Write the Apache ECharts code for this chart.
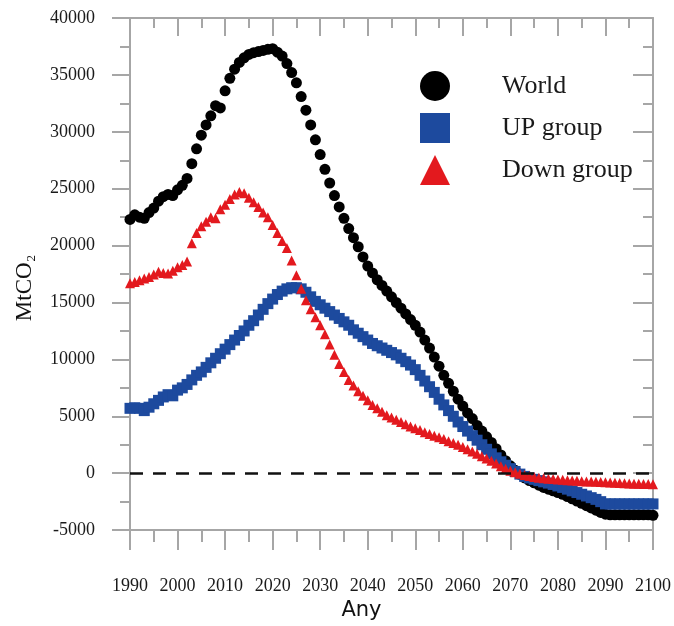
<!DOCTYPE html>
<html>
<head>
<meta charset="utf-8">
<script src="https://cdn.jsdelivr.net/npm/echarts@6/dist/echarts.min.js"></script>
<style>
html,body{margin:0;padding:0;background:#fff;}
#chart{width:674px;height:626px;}
</style>
</head>
<body>
<div id="chart"></div>
<script>
const startYear = 1990;
const endYear = 2100;
const seriesNames = ['World', 'UP group', 'Down group'];

const world = [
  22300, 22700, 22500, 22400, 22900, 23300, 23900, 24300, 24500, 24400,
  24900, 25300, 25900, 27200, 28500, 29700, 30600, 31400, 32300, 32100,
  33600, 34700, 35500, 36100, 36500, 36800, 36950, 37050, 37150, 37250,
  37300, 37000, 36650, 36000, 35200, 34300, 33100, 31900, 30600, 29300,
  28000, 26700, 25500, 24400, 23400, 22400, 21500, 20700, 19900, 19000,
  18200, 17600, 17000, 16500, 16000, 15500, 15000, 14500, 14000, 13500,
  13000, 12400, 11700, 11000, 10200, 9400, 8600, 7900, 7200, 6500,
  5900, 5300, 4800, 4200, 3700, 3200, 2700, 2150, 1600, 1100,
  650, 250, -100, -400, -650, -850, -1050, -1250, -1400, -1550,
  -1700, -1850, -2050, -2250, -2450, -2650, -2850, -3050, -3250, -3450,
  -3600, -3650, -3650, -3650, -3650, -3650, -3650, -3650, -3650, -3650,
  -3700
];

const upGroup = [
  5700, 5750, 5700, 5500, 5800, 6100, 6400, 6700, 6900, 6800,
  7300, 7500, 7800, 8200, 8600, 8900, 9300, 9700, 10100, 10500,
  10900, 11300, 11700, 12100, 12500, 13000, 13400, 13900, 14400, 14900,
  15300, 15700, 16000, 16200, 16300, 16300, 16200, 15900, 15500, 15100,
  14800, 14500, 14200, 13900, 13600, 13300, 13000, 12600, 12300, 12000,
  11700, 11400, 11200, 11000, 10800, 10600, 10400, 10100, 9800, 9500,
  9100, 8600, 8100, 7600, 7100, 6500, 6000, 5500, 5000, 4500,
  4100, 3700, 3300, 2900, 2500, 2100, 1700, 1350, 1000, 700,
  400, 150, -80, -280, -420, -540, -650, -760, -870, -990,
  -1120, -1250, -1400, -1550, -1700, -1850, -2000, -2150, -2300, -2500,
  -2700, -2700, -2700, -2700, -2700, -2700, -2700, -2700, -2700, -2700,
  -2700
];

const downGroup = [
  16700, 16800, 16950, 17100, 17250, 17450, 17700, 17600, 17550, 17800,
  18100, 18300, 18600, 20200, 21100, 21700, 22100, 22500, 22400, 23200,
  23600, 24100, 24500, 24700, 24600, 24200, 23800, 23400, 22900, 22500,
  21800, 21100, 20400, 19800, 18700, 17400, 16200, 15200, 14400, 13700,
  13000, 12200, 11300, 10400, 9600, 8900, 8200, 7700, 7200, 6800,
  6400, 6000, 5700, 5400, 5100, 4900, 4700, 4500, 4300, 4100,
  3950, 3800, 3600, 3450, 3300, 3150, 3000, 2800, 2650, 2500,
  2300, 2100, 1900, 1700, 1500, 1300, 1100, 850, 600, 400,
  220, 80, -50, -150, -250, -330, -390, -440, -480, -520,
  -550, -580, -610, -640, -670, -700, -720, -740, -760, -780,
  -800, -820, -840, -860, -880, -900, -920, -930, -950, -960,
  -980
];

const xTickLabels = ['1990','2000','2010','2020','2030','2040','2050','2060','2070','2080','2090','2100'];
const yTickLabels = ['-5000','0','5000','10000','15000','20000','25000','30000','35000','40000'];

function pairs(arr) {
  return arr.map((v, i) => [startYear + i, v]);
}

const serif = '"Liberation Serif", "DejaVu Serif", serif';
const axisGray = '#a6a6a6';

const chart = echarts.init(document.getElementById('chart'), null, {renderer: 'canvas'});

const xBase = {
  type: 'value', min: 1990, max: 2100, interval: 10,
  splitLine: {show: false},
  axisLine: {show: true, onZero: false, lineStyle: {color: axisGray, width: 2}},
  minorTick: {show: true, splitNumber: 2, length: 12, lineStyle: {color: axisGray, width: 2}},
  minorSplitLine: {show: false}
};
const yBase = {
  type: 'value', min: -5000, max: 40000, interval: 5000,
  splitLine: {show: false},
  axisLine: {show: true, onZero: false, lineStyle: {color: axisGray, width: 2}},
  minorTick: {show: true, splitNumber: 2, length: 10, lineStyle: {color: axisGray, width: 2}},
  minorSplitLine: {show: false}
};

chart.setOption({
  animation: false,
  backgroundColor: '#ffffff',
  grid: {left: 130, right: 18, top: 18, bottom: 87, containLabel: false},
  legend: {
    orient: 'vertical',
    left: 415, top: 66,
    itemWidth: 30, itemHeight: 30, itemGap: 12,
    data: [
      {name: seriesNames[0], icon: 'circle'},
      {name: seriesNames[1], icon: 'rect'},
      {name: seriesNames[2], icon: 'triangle'}
    ],
    textStyle: {fontFamily: serif, fontSize: 26, color: '#1a1a1a', padding: [0, 0, 0, 47]}
  },
  xAxis: [
    Object.assign({}, xBase, {
      position: 'bottom',
      name: 'Any', nameLocation: 'middle', nameGap: 64,
      nameTextStyle: {fontFamily: '"DejaVu Sans", sans-serif', fontSize: 21, color: '#111', padding: [0, 60, 0, 0]},
      axisTick: {show: true, inside: false, length: 20, lineStyle: {color: axisGray, width: 2}},
      axisLabel: {
        show: true, margin: 47, fontFamily: serif, fontSize: 18, color: '#1a1a1a',
        formatter: function (v) { const s = String(v); return xTickLabels.indexOf(s) >= 0 ? s : ''; }
      }
    }),
    Object.assign({}, xBase, {
      position: 'top',
      axisTick: {show: true, inside: true, length: 18, lineStyle: {color: axisGray, width: 2}},
      minorTick: {show: true, splitNumber: 2, length: 10, lineStyle: {color: axisGray, width: 2}},
      axisLabel: {show: false}
    })
  ],
  yAxis: [
    Object.assign({}, yBase, {
      position: 'left',
      name: '{a|MtCO}{b|2}', nameLocation: 'middle', nameGap: 92,
      nameTextStyle: {
        padding: [0, 28, 0, 0],
        rich: {
          a: {fontFamily: serif, fontSize: 23, color: '#111'},
          b: {fontFamily: serif, fontSize: 13, color: '#111', padding: [14, 0, 0, 1]}
        }
      },
      axisTick: {show: true, inside: false, length: 18, lineStyle: {color: axisGray, width: 2}},
      axisLabel: {
        show: true, margin: 35, fontFamily: serif, fontSize: 18, color: '#1a1a1a',
        formatter: function (v) { const s = String(v); return yTickLabels.indexOf(s) >= 0 ? s : ''; }
      }
    }),
    Object.assign({}, yBase, {
      position: 'right',
      axisTick: {show: true, inside: true, length: 20, lineStyle: {color: axisGray, width: 2}},
      axisLabel: {show: false}
    })
  ],
  series: [
    {
      name: seriesNames[0], type: 'scatter', xAxisIndex: 0, yAxisIndex: 0,
      symbol: 'circle', symbolSize: 11,
      itemStyle: {color: '#000000', opacity: 1},
      data: pairs(world),
      markLine: {
        silent: true, symbol: 'none', label: {show: false},
        lineStyle: {color: '#111', width: 2.5, type: [13, 10]},
        data: [{yAxis: 0}]
      }
    },
    {
      name: seriesNames[1], type: 'scatter', xAxisIndex: 0, yAxisIndex: 0,
      symbol: 'rect', symbolSize: 11,
      itemStyle: {color: '#1d4a9e', opacity: 1},
      data: pairs(upGroup)
    },
    {
      name: seriesNames[2], type: 'scatter', xAxisIndex: 0, yAxisIndex: 0,
      symbol: 'triangle', symbolSize: 10,
      itemStyle: {color: '#e3191e', opacity: 1},
      data: pairs(downGroup)
    }
  ]
});
</script>
</body>
</html>
